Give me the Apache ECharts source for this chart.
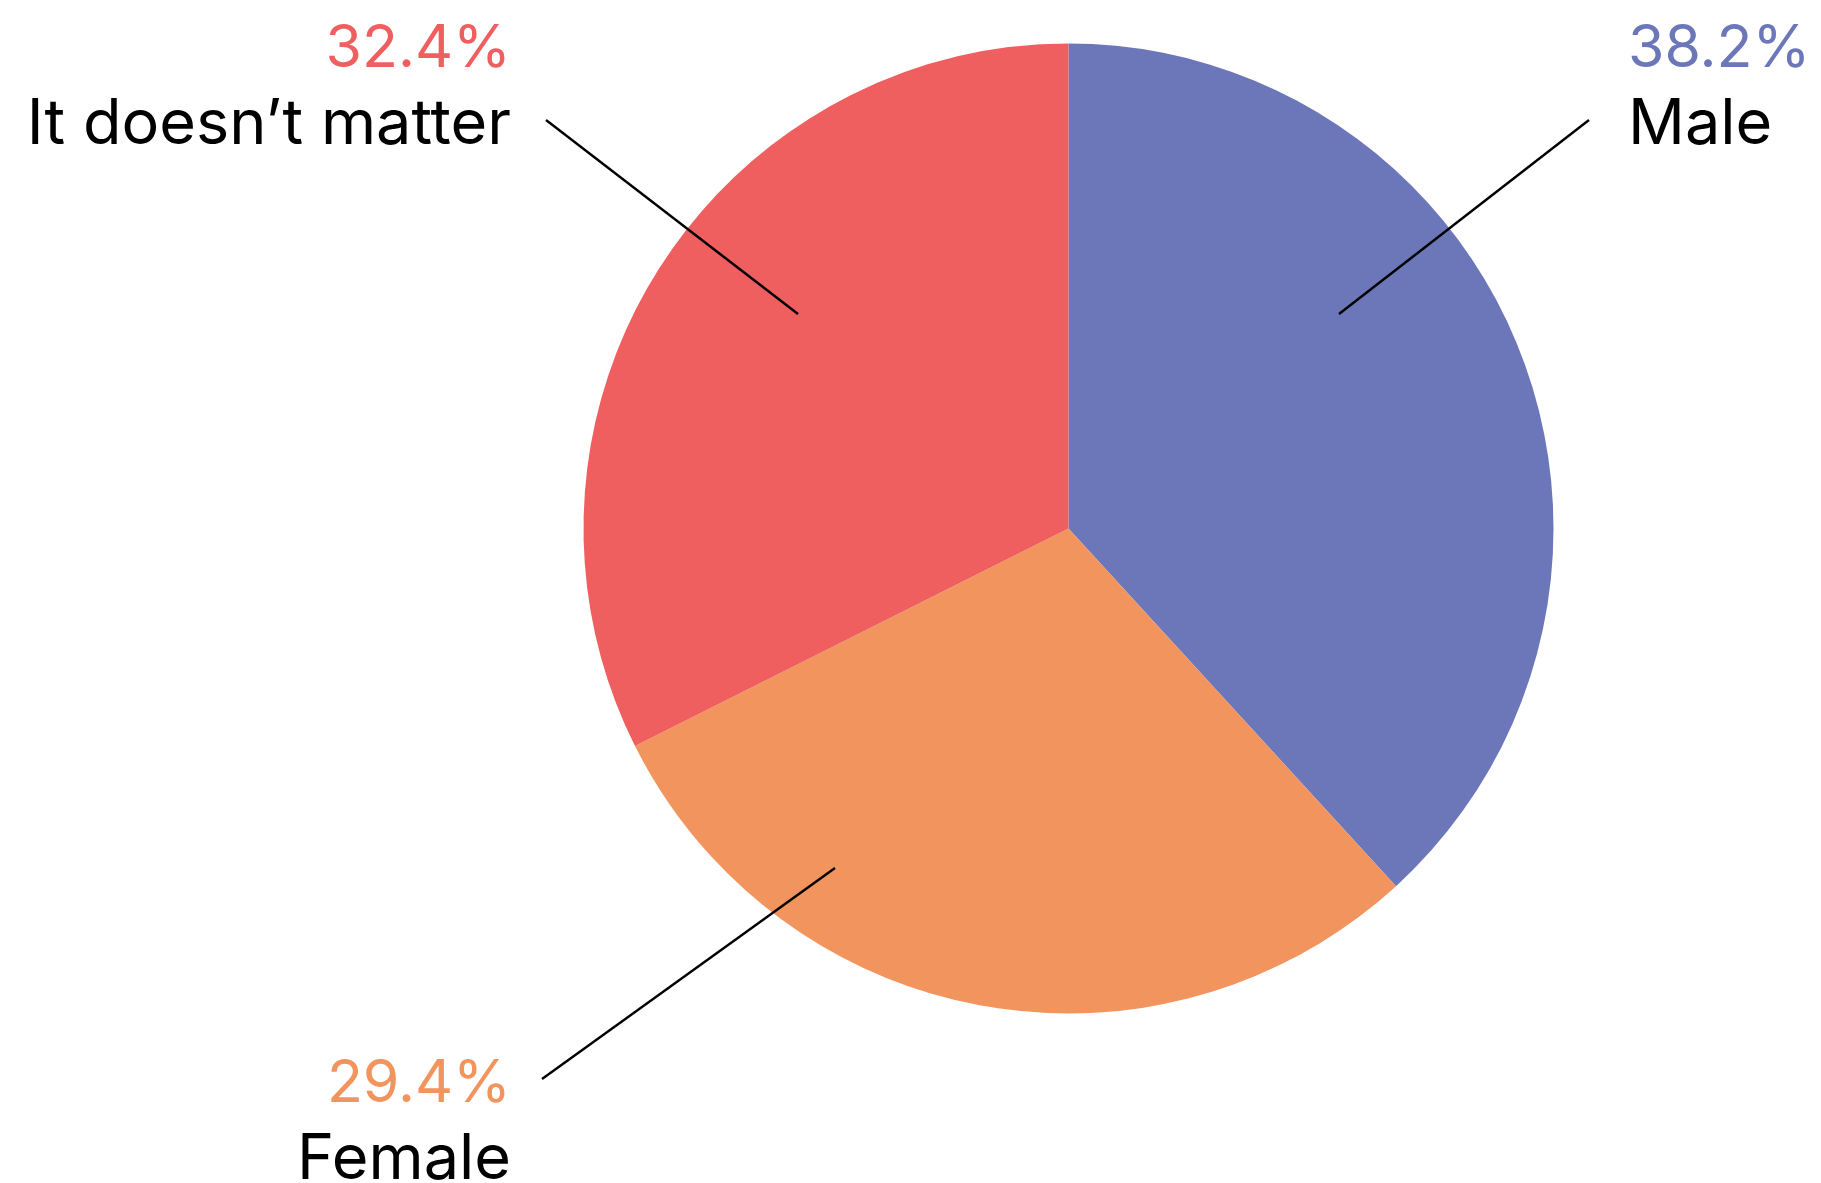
<!DOCTYPE html>
<html>
<head>
<meta charset="utf-8">
<script src="https://cdn.jsdelivr.net/npm/echarts@6/dist/echarts.min.js"></script>
<style>
html,body{margin:0;padding:0;background:#fff;}
#chart{width:1821px;height:1183px;}
</style>
</head>
<body>
<div id="chart"></div>
<script>
const categories = ['Male', 'Female', 'It doesn\u2019t matter'];
const values = [38.2, 29.4, 32.4];
const colors = ['#6b77b8', '#f2945e', '#f05f60'];

// label layout (positions only)
const labelPlacement = [
  { x: 1628, y: 11, align: 'left', line: [[1339, 314], [1589, 120]] },
  { x: 511, y: 1046, align: 'right', line: [[835, 868], [542, 1079]] },
  { x: 511, y: 11, align: 'right', line: [[798, 314], [546, 120]] }
];

const FONT = 'Inter, Roboto, sans-serif';
const CENTER = [1068.5, 528.5];
const RADIUS = 485;
const pieData = categories.map((c, i) => ({ name: c, value: values[i] }));

const chart = echarts.init(document.getElementById('chart'), null, { renderer: 'canvas' });
chart.setOption({
  animation: false,
  backgroundColor: '#ffffff',
  series: [{
    type: 'pie',
    z: 2,
    center: CENTER,
    radius: RADIUS,
    startAngle: 90,
    clockwise: true,
    data: pieData.map((d, i) => ({ ...d, itemStyle: { color: colors[i] } })),
    label: { show: false },
    labelLine: { show: false },
    emphasis: { disabled: true },
    silent: true
  }, {
    type: 'pie',
    z: 5,
    center: CENTER,
    radius: RADIUS,
    startAngle: 90,
    clockwise: true,
    avoidLabelOverlap: false,
    data: pieData.map((d, i) => ({
      ...d,
      itemStyle: { color: 'rgba(0,0,0,0)' },
      label: { color: colors[i] }
    })),
    label: {
      show: true,
      position: 'outside',
      fontFamily: FONT,
      formatter: p => '{p|' + p.value.toFixed(1) + '%}\n{n|' + p.name + '}',
      rich: {
        p: { fontSize: 59, lineHeight: 76, fontFamily: FONT },
        n: { fontSize: 63, lineHeight: 76, color: '#000000', fontFamily: FONT }
      }
    },
    labelLine: {
      show: true,
      lineStyle: { color: '#000000', width: 2.4 }
    },
    labelLayout: function (params) {
      const lp = labelPlacement[params.dataIndex];
      const s = lp.line[0], e = lp.line[1];
      return {
        x: lp.x,
        y: lp.y,
        align: lp.align,
        verticalAlign: 'top',
        labelLinePoints: [s, [(s[0] + e[0]) / 2, (s[1] + e[1]) / 2], e]
      };
    },
    emphasis: { disabled: true },
    silent: true
  }]
});
</script>
</body>
</html>
